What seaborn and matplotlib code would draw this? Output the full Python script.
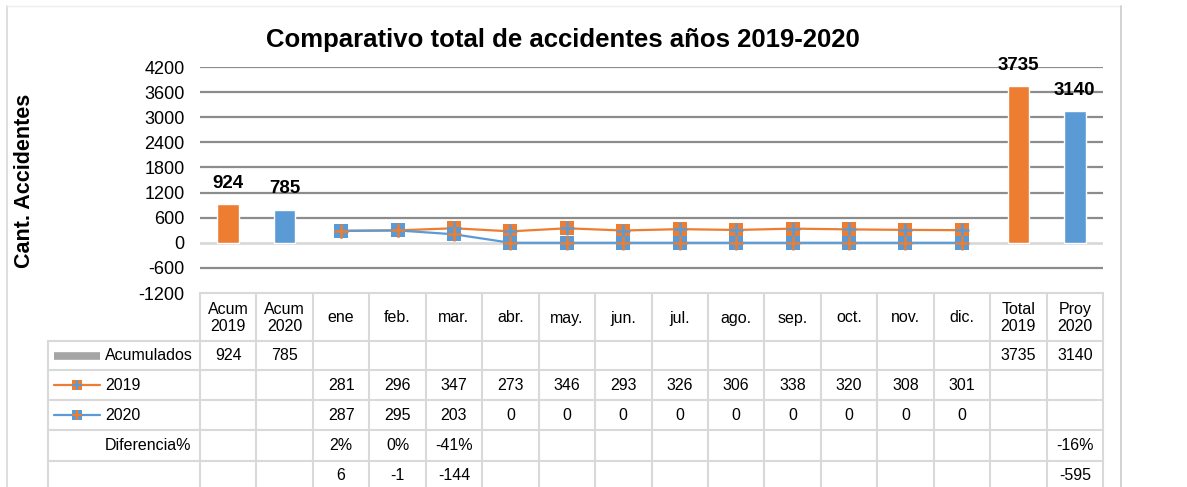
import numpy as np
import pandas as pd
import matplotlib
matplotlib.use("Agg")
import matplotlib.pyplot as plt
import seaborn as sns

sns.set_style("white")
plt.rcParams["font.family"] = ["Liberation Sans", "DejaVu Sans"]
plt.rcParams["axes.unicode_minus"] = False
plt.rcParams.update({"text.color": "black", "axes.labelcolor": "black",
                     "ytick.color": "black", "xtick.color": "black"})

# datos
categorias = ["Acum\n2019", "Acum\n2020", "ene", "feb.", "mar.", "abr.", "may.", "jun.",
              "jul.", "ago.", "sep.", "oct.", "nov.", "dic.", "Total\n2019", "Proy\n2020"]
meses = ["ene", "feb.", "mar.", "abr.", "may.", "jun.", "jul.", "ago.", "sep.", "oct.", "nov.", "dic."]
acum_cats = ["Acum\n2019", "Acum\n2020", "Total\n2019", "Proy\n2020"]
acumulados = [924, 785, 3735, 3140]
acc_2019 = [281, 296, 347, 273, 346, 293, 326, 306, 338, 320, 308, 301]
acc_2020 = [287, 295, 203, 0, 0, 0, 0, 0, 0, 0, 0, 0]
dif_pct = {"ene": "2%", "feb.": "0%", "mar.": "-41%", "Proy\n2020": "-16%"}
dif_abs = {"ene": "6", "feb.": "-1", "mar.": "-144", "Proy\n2020": "-595"}
yticks = list(range(-1200, 4201, 600))

NAR = "#ED7D31"
AZU = "#5B9BD5"
GRIS = "#A5A5A5"
LINEA = "#D9D9D9"
bar_colores = {"Acum\n2019": NAR, "Acum\n2020": AZU, "Total\n2019": NAR, "Proy\n2020": AZU}

W, H = 1187, 487
fig = plt.figure(figsize=(W / 100, H / 100), dpi=100)

# area de grafico (px: x 200-1103, y 67-293)
X0, X1, Y0, Y1 = 200, 1103, 67, 293
ax = fig.add_axes([X0 / W, 1 - Y1 / H, (X1 - X0) / W, (Y1 - Y0) / H])

df_bar = pd.DataFrame({"cat": acum_cats, "val": acumulados})
sns.barplot(data=df_bar, x="cat", y="val", order=categorias, hue="cat",
            palette=bar_colores, width=0.38, legend=False, saturation=1, ax=ax, zorder=3)
for c in ax.containers:
    ax.bar_label(c, fmt="%d", padding=9, fontsize=13.5, fontweight="bold")

xm = [categorias.index(m) for m in meses]
for vals, col, cruz in [(acc_2019, NAR, AZU), (acc_2020, AZU, NAR)]:
    sns.lineplot(x=xm, y=vals, color=col, lw=1.6, marker="s", markersize=10,
                 markeredgewidth=0, ax=ax, zorder=4)
    ax.plot(xm, vals, ls="none", marker="+", color=cruz, markersize=10, mew=1.8, zorder=5)

for t in yticks:
    if t == 0:
        ax.axhline(t, color=LINEA, lw=2, zorder=2)
    elif t != yticks[0]:
        ax.axhline(t, color="#8C8C8C", lw=1.6, zorder=1)

ax.set_xlim(-0.5, len(categorias) - 0.5)
ax.set_ylim(yticks[0], yticks[-1])
ax.set_yticks(yticks)
ax.tick_params(axis="y", length=0, pad=11, labelsize=13)
ax.set_xticks([])
ax.set_xlabel("")
ax.set_ylabel("Cant. Accidentes", fontsize=15.5, fontweight="bold")
ax.yaxis.set_label_coords(-(X0 - 35) / (X1 - X0), (Y1 - 181) / (Y1 - Y0))
for s in ax.spines.values():
    s.set_visible(False)
ax.patch.set_alpha(0)

fig.text(563 / W, 1 - 40 / H, "Comparativo total de accidentes años 2019-2020",
         ha="center", va="center", fontsize=18.5, fontweight="bold")

# tabla de datos (coordenadas en pixeles)
tx = fig.add_axes([0, 0, 1, 1], zorder=-1)
tx.set_xlim(0, W)
tx.set_ylim(H, 0)
tx.axis("off")

n = len(categorias)
cw = (X1 - X0) / n
filas = [293, 341, 370, 400, 430, 461, 491]
LX = 48

tx.plot([X0, X1], [filas[0], filas[0]], color=LINEA, lw=1.5)
for yy in filas[1:]:
    tx.plot([LX, X1], [yy, yy], color=LINEA, lw=1.5)
tx.plot([LX, LX], [filas[1], H], color=LINEA, lw=1.5)
for k in range(n + 1):
    tx.plot([X0 + k * cw, X0 + k * cw], [filas[0], H], color=LINEA, lw=1.5)

# marco
tx.plot([7, 7], [6, H], color=LINEA, lw=1.2)
tx.plot([7, 1121], [6, 6], color="#EEEEEE", lw=1.0)
tx.plot([1121, 1121], [6, H], color="#CCCCCC", lw=1.2)

fs = 11.5
cy = [(filas[i] + filas[i + 1]) / 2 for i in range(len(filas) - 1)]
for i, c in enumerate(categorias):
    xc = X0 + (i + 0.5) * cw
    tx.text(xc, cy[0] + 1, c, ha="center", va="center", fontsize=fs, linespacing=1.15)
    if c in acum_cats:
        tx.text(xc, cy[1], str(acumulados[acum_cats.index(c)]), ha="center", va="center", fontsize=fs)
    if c in meses:
        j = meses.index(c)
        tx.text(xc, cy[2], str(acc_2019[j]), ha="center", va="center", fontsize=fs)
        tx.text(xc, cy[3], str(acc_2020[j]), ha="center", va="center", fontsize=fs)
    if c in dif_pct:
        tx.text(xc, cy[4], dif_pct[c], ha="center", va="center", fontsize=fs)
    if c in dif_abs:
        tx.text(xc, cy[5], dif_abs[c], ha="center", va="center", fontsize=fs)

# etiquetas de fila con leyenda
tx.plot([54, 100], [cy[1], cy[1]], color=GRIS, lw=5.5, solid_capstyle="butt")
for fila, col, cruz in [(cy[2], NAR, AZU), (cy[3], AZU, NAR)]:
    tx.plot([54, 100], [fila, fila], color=col, lw=1.6)
    tx.plot([77], [fila], marker="s", color=col, markersize=7.5, mew=0)
    tx.plot([77], [fila], marker="+", color=cruz, markersize=7.5, mew=1.5)
for fila, txt in zip(cy[1:5], ["Acumulados", "2019", "2020", "Diferencia%"]):
    tx.text(105, fila, txt, ha="left", va="center", fontsize=fs)

fig.savefig("out.png", dpi=100)
